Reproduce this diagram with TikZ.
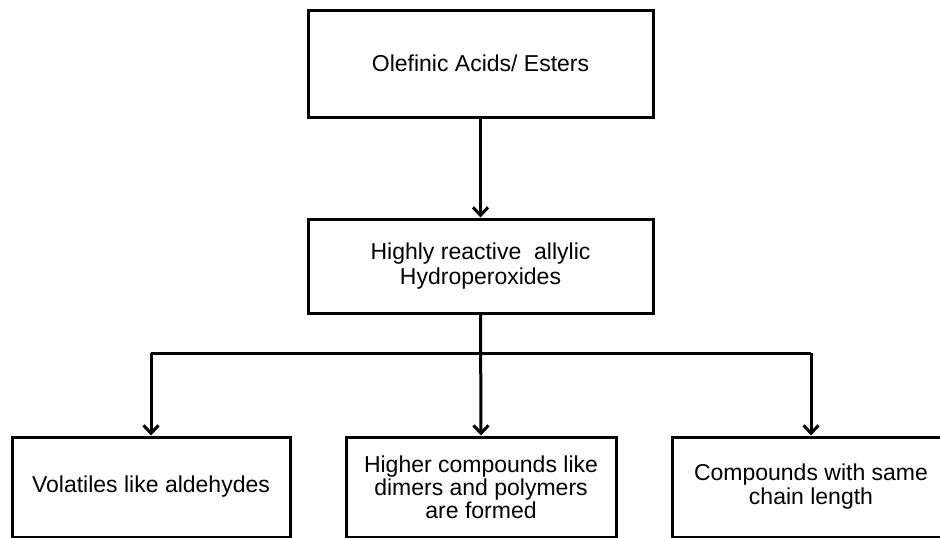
\documentclass[tikz,border=0pt]{standalone}
\usepackage{fontspec}
\setmainfont{Liberation Sans}
\usetikzlibrary{arrows.meta}
\begin{document}
\begin{tikzpicture}[x=1pt,y=-1pt,
  box/.style={draw=black,line width=3pt,fill=white,align=center,inner sep=0pt,
    font=\fontsize{23}{25}\selectfont},
  conn/.style={line width=3pt,draw=black},
  arr/.style={conn,-{Straight Barb[length=8pt,width=15pt,line width=3pt]}}]
\useasboundingbox (0,0) rectangle (940,538);
\node[box,minimum width=345pt,minimum height=107pt] (top) at (480.5,63.5) {Olefinic Acids/ Esters};
\node[box,minimum width=345pt,minimum height=94pt] (mid) at (480.5,266) {Highly reactive\ \ allylic\\Hydroperoxides};
\node[box,minimum width=278pt,minimum height=100pt] (b1) at (151,487) {Volatiles like aldehydes};
\node[box,minimum width=270pt,minimum height=100pt,font=\fontsize{23}{23}\selectfont] (b2) at (481,487) {Higher compounds like\\dimers and polymers\\are formed};
\node[box,minimum width=278pt,minimum height=100pt,font=\fontsize{23}{24}\selectfont] (b3) at (811,487) {Compounds with same\\chain length};
\coordinate (split) at (480.5,353);
\draw[arr] (top.south) -- (mid.north);
\draw[arr] (mid.south) -- (b2.north);
\draw[conn] (b1.north |- split) -- (b3.north |- split);
\draw[arr] (b1.north |- split) -- (b1.north);
\draw[arr] (b3.north |- split) -- (b3.north);
\end{tikzpicture}
\end{document}
